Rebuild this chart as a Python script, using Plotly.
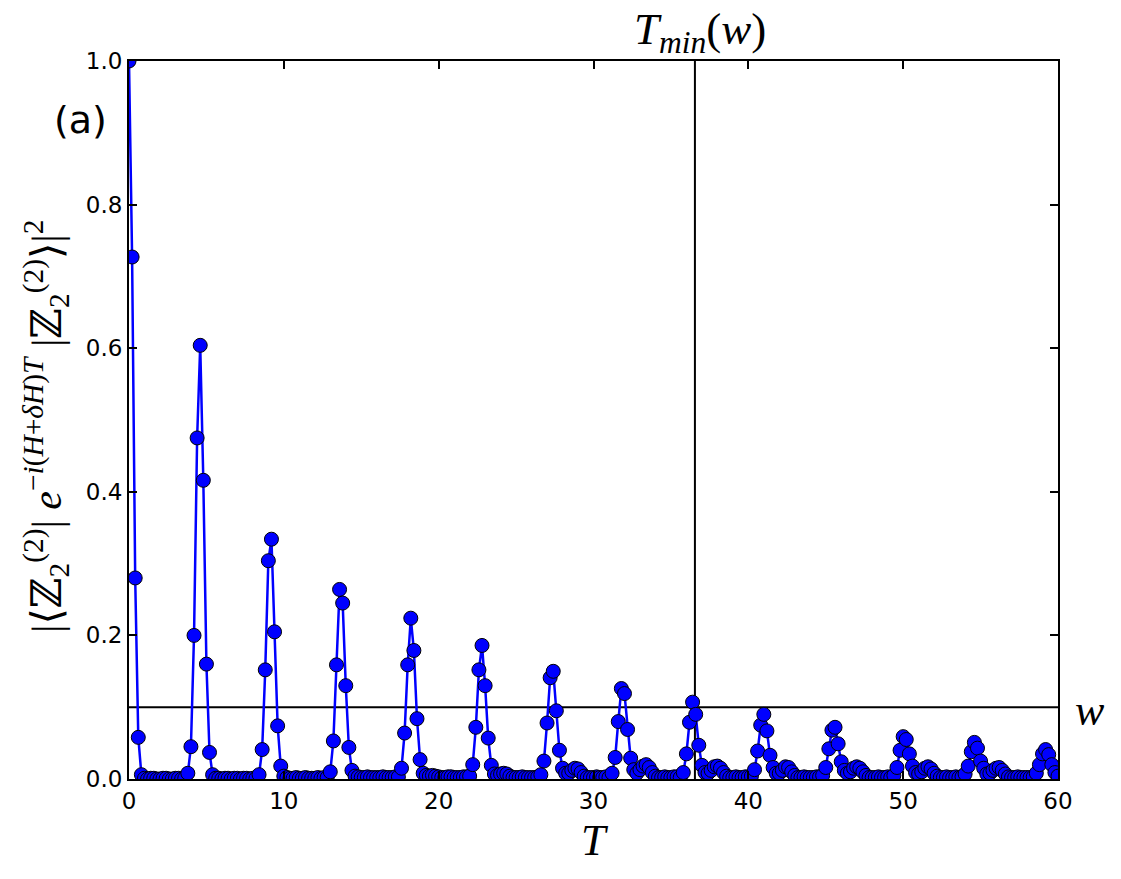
import plotly.graph_objects as go

# ---------------- data ----------------
T_STEP = 0.2
T = [round(i * T_STEP, 1) for i in range(301)]

fidelity = [
    1.000, 0.727, 0.280, 0.058, 0.006, 0.001, 0.000, 0.001, 0.001, 0.000,   # 0.0 - 1.8
    0.000, 0.001, 0.001, 0.000, 0.000, 0.001, 0.001, 0.000, 0.001, 0.008,   # 2.0 - 3.8
    0.045, 0.200, 0.475, 0.604, 0.416, 0.160, 0.037, 0.006, 0.001, 0.001,   # 4.0 - 5.8
    0.000, 0.001, 0.001, 0.000, 0.001, 0.001, 0.000, 0.001, 0.001, 0.000,   # 6.0 - 7.8
    0.001, 0.001, 0.006, 0.041, 0.152, 0.304, 0.334, 0.205, 0.074, 0.018,   # 8.0 - 9.8
    0.004, 0.002, 0.001, 0.001, 0.002, 0.001, 0.001, 0.002, 0.001, 0.001,   # 10.0 - 11.8
    0.001, 0.002, 0.001, 0.002, 0.002, 0.010, 0.053, 0.159, 0.264, 0.245,   # 12.0 - 13.8
    0.130, 0.044, 0.012, 0.004, 0.003, 0.002, 0.002, 0.003, 0.002, 0.002,   # 14.0 - 15.8
    0.002, 0.002, 0.003, 0.002, 0.002, 0.002, 0.003, 0.003, 0.015, 0.064,   # 16.0 - 17.8
    0.159, 0.224, 0.179, 0.084, 0.027, 0.008, 0.005, 0.004, 0.005, 0.004,   # 18.0 - 19.8
    0.003, 0.002, 0.002, 0.003, 0.003, 0.002, 0.002, 0.002, 0.003, 0.003,   # 20.0 - 21.8
    0.004, 0.020, 0.072, 0.152, 0.186, 0.130, 0.057, 0.019, 0.007, 0.005,   # 22.0 - 23.8
    0.007, 0.008, 0.007, 0.004, 0.002, 0.002, 0.002, 0.003, 0.002, 0.002,   # 24.0 - 25.8
    0.002, 0.002, 0.003, 0.006, 0.025, 0.078, 0.141, 0.150, 0.095, 0.040,   # 26.0 - 27.8
    0.015, 0.008, 0.008, 0.012, 0.015, 0.014, 0.009, 0.004, 0.002, 0.002,   # 28.0 - 29.8
    0.002, 0.003, 0.002, 0.002, 0.003, 0.002, 0.008, 0.030, 0.080, 0.126,   # 30.0 - 31.8
    0.119, 0.069, 0.029, 0.013, 0.008, 0.013, 0.018, 0.020, 0.016, 0.009,   # 32.0 - 33.8
    0.004, 0.002, 0.002, 0.003, 0.002, 0.002, 0.003, 0.003, 0.002, 0.009,   # 34.0 - 35.8
    0.035, 0.079, 0.107, 0.090, 0.047, 0.019, 0.009, 0.008, 0.012, 0.017,   # 36.0 - 37.8
    0.018, 0.015, 0.009, 0.004, 0.002, 0.002, 0.003, 0.002, 0.002, 0.003,   # 38.0 - 39.8
    0.003, 0.004, 0.013, 0.039, 0.075, 0.090, 0.067, 0.033, 0.016, 0.008,   # 40.0 - 41.8
    0.008, 0.012, 0.017, 0.016, 0.010, 0.005, 0.002, 0.002, 0.003, 0.002,   # 42.0 - 43.8
    0.002, 0.002, 0.003, 0.003, 0.005, 0.016, 0.042, 0.068, 0.072, 0.049,   # 44.0 - 45.8
    0.024, 0.012, 0.008, 0.010, 0.015, 0.017, 0.015, 0.010, 0.005, 0.002,   # 46.0 - 47.8
    0.002, 0.002, 0.003, 0.002, 0.002, 0.003, 0.002, 0.005, 0.016, 0.040,   # 48.0 - 49.8
    0.059, 0.055, 0.035, 0.018, 0.009, 0.007, 0.010, 0.015, 0.017, 0.014,   # 50.0 - 51.8
    0.008, 0.004, 0.002, 0.002, 0.003, 0.002, 0.002, 0.003, 0.002, 0.003,   # 52.0 - 53.8
    0.007, 0.018, 0.038, 0.051, 0.043, 0.025, 0.015, 0.007, 0.008, 0.012,   # 54.0 - 55.8
    0.015, 0.016, 0.012, 0.007, 0.003, 0.002, 0.002, 0.003, 0.002, 0.002,   # 56.0 - 57.8
    0.002, 0.002, 0.003, 0.008, 0.020, 0.035, 0.041, 0.034, 0.020, 0.009,   # 58.0 - 59.8
    0.004,                                                                  # 60.0
]

W_THRESHOLD = 0.1
T_MIN = 36.55

X_TICKS = [0, 10, 20, 30, 40, 50, 60]
Y_TICKS = [0.0, 0.2, 0.4, 0.6, 0.8, 1.0]
Y_TICK_TEXT = ["0.0", "0.2", "0.4", "0.6", "0.8", "1.0"]

# ---------------- figure ----------------
SERIF = "Liberation Serif, DejaVu Serif, serif"
SANS = "DejaVu Sans, sans-serif"

fig = go.Figure()

# threshold line w
fig.add_trace(go.Scatter(
    x=[X_TICKS[0], X_TICKS[-1]], y=[W_THRESHOLD, W_THRESHOLD],
    mode="lines", line=dict(color="black", width=2), hoverinfo="skip",
    showlegend=False,
))
# T_min vertical line
fig.add_trace(go.Scatter(
    x=[T_MIN, T_MIN], y=[Y_TICKS[0], Y_TICKS[-1]],
    mode="lines", line=dict(color="black", width=2), hoverinfo="skip",
    showlegend=False,
))
# data
fig.add_trace(go.Scatter(
    x=T, y=fidelity, mode="lines+markers",
    line=dict(color="#0000FF", width=2.5),
    marker=dict(color="#0000FF", size=14, line=dict(color="black", width=1)),
    showlegend=False,
))

axis_common = dict(
    showline=True, linecolor="black", linewidth=2, mirror="allticks",
    ticks="inside", ticklen=8, tickwidth=1.5, tickcolor="black",
    showgrid=False, zeroline=False,
    tickfont=dict(family=SANS, size=23, color="black"),
)

fig.update_layout(
    width=1121, height=879,
    margin=dict(l=129, r=63, t=61, b=100),
    paper_bgcolor="white", plot_bgcolor="white",
    xaxis=dict(range=[0, 60], tickvals=X_TICKS, **axis_common),
    yaxis=dict(range=[0, 1], tickvals=Y_TICKS, ticktext=Y_TICK_TEXT, **axis_common),
)

# annotations placed in pixel coordinates converted to paper coordinates
W, H = 1121, 879
L, R, TOP, B = 129, 63, 61, 100
pw, ph = W - L - R, H - TOP - B


def px2paper(px, py):
    return (px - L) / pw, (H - B - py) / ph


labels = [
    ("<i>T</i>", 595, 840, SERIF, 44, 0),
    ("(a)", 80, 120, SANS, 38, 0),
    ("<i>w</i>", 1090, 710, SERIF, 44, 0),
    ("<i>T</i><sub><i>min</i></sub>(<i>w</i>)", 700, 32, SERIF, 45, 0),
    ("|⟨ℤ<sub>2</sub><sup>(2)</sup>| <i>e</i><sup>−<i>i</i>(<i>H</i>+<i>δH</i>)<i>T</i></sup> "
     "|ℤ<sub>2</sub><sup>(2)</sup>⟩|<sup>2</sup>", 46, 427, SERIF, 42, -90),
]
for text, px, py, fam, size, ang in labels:
    ax, ay = px2paper(px, py)
    fig.add_annotation(text=text, x=ax, y=ay, xref="paper", yref="paper",
                       xanchor="center", yanchor="middle", showarrow=False,
                       textangle=ang,
                       font=dict(family=fam, size=size, color="black"))

fig.write_html("out.html")
